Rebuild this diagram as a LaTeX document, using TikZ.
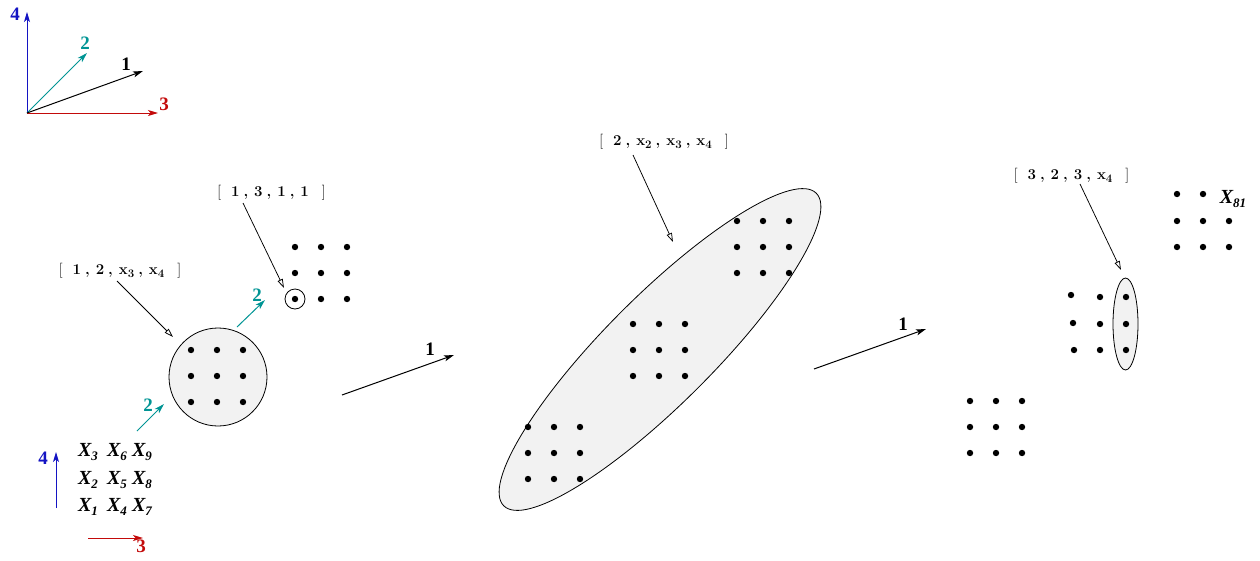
\documentclass[tikz,border=0pt]{standalone}
\usepackage{fontspec}
\newfontfamily\tms{Liberation Serif}
\usetikzlibrary{arrows.meta,shapes.geometric}
\definecolor{axblue}{RGB}{20,20,195}
\definecolor{axteal}{RGB}{0,148,148}
\definecolor{axred}{RGB}{195,10,10}
\definecolor{setfill}{RGB}{242,242,242}
\newcommand\cma{\hspace{4pt}\textbf{,}\hspace{6pt}}
\newcommand\sbx[1]{\textbf{x}\raisebox{-3pt}{\fontsize{11.5}{11.5}\selectfont\bfseries #1}}
\newcommand\veclab[1]{[\hspace{10pt}#1\hspace{13pt}]}
\newcommand\Xl[1]{{\tms\bfseries\itshape X}\raisebox{-4pt}{\fontsize{13}{13}\selectfont\tms\bfseries\itshape #1}}
\begin{document}
\begin{tikzpicture}[x=1pt,y=-1pt,
  dotn/.style={circle,fill=black,inner sep=0pt,minimum size=6.4pt},
  dirarrow/.style={line width=1pt,-{Stealth[length=10pt,width=6pt,inset=2.5pt]}},
  labarrow/.style={line width=0.75pt,-{Triangle[open,length=9pt,width=5.5pt,line width=0.75pt]}},
  numlab/.style={font=\fontsize{19}{19}\selectfont\tms\bfseries,inner sep=0pt},
  veclabel/.style={font=\fontsize{15}{15}\selectfont,inner sep=0pt,anchor=base},
  xlab/.style={font=\fontsize{20}{20}\selectfont,inner sep=0pt,anchor=base},
  setshape/.style={draw=black,line width=0.8pt,fill=setfill,inner sep=0pt}]
\useasboundingbox (0,0) rectangle (1260,560);

% ---- top-left axes ----
\coordinate (o) at (27,113);
\coordinate (t4) at (27,12);
\coordinate (t3) at (158,113);
\coordinate (t2) at (87,53);
\coordinate (t1) at (143,71);
\draw[dirarrow,axblue] (o) -- (t4);
\draw[dirarrow,axred] (o) -- (t3);
\draw[dirarrow,axteal] (o) -- (t2);
\draw[dirarrow,black] (o) -- (t1);
\node[numlab,text=axblue] (n4) at (15,14) {4};
\node[numlab,text=axred] (n3) at (164,104) {3};
\node[numlab,text=axteal] (n2) at (85,43) {2};
\node[numlab] (n1) at (126,64) {1};

% ---- set shapes ----
\node[setshape,circle,minimum size=98pt] (bigc) at (218,377) {};
\node[setshape,ellipse,minimum width=442pt,minimum height=108pt,rotate=45] (bige) at (660,349.5) {};
\node[setshape,ellipse,minimum width=25pt,minimum height=92pt] (smalle) at (1125.5,324) {};

% ---- dot grids ----
\foreach \gx/\gy/\g in {191/350/a, 295/247/b, 528/427/c, 633/324/d, 737/221/e, 970/401/f}{
  \foreach \i in {0,1,2}{
    \foreach \j in {0,1,2}{
      \node[dotn] (\g\i\j) at (\gx+26*\i,\gy+26*\j) {};
    }
  }
}
\node[draw=black,line width=0.8pt,circle,minimum size=20pt,inner sep=0pt] (smallc) at (b02) {};
% right middle group
\node[dotn] (g00) at (1071,295) {};
\node[dotn] (g01) at (1073,323) {};
\node[dotn] (g02) at (1074,350) {};
\node[dotn] (g10) at (1100,297) {};
\node[dotn] (g11) at (1100,324) {};
\node[dotn] (g12) at (1100,350) {};
\node[dotn] (g20) at (1126,297) {};
\node[dotn] (g21) at (1126,324) {};
\node[dotn] (g22) at (1126,350) {};
% upper right group
\node[dotn] (h00) at (1177,194) {};
\node[dotn] (h10) at (1203,194) {};
\node[dotn] (h01) at (1177,221) {};
\node[dotn] (h11) at (1203,221) {};
\node[dotn] (h21) at (1229,221) {};
\node[dotn] (h02) at (1177,247) {};
\node[dotn] (h12) at (1203,247) {};
\node[dotn] (h22) at (1229,247) {};
\node[xlab] (x81) at (1233,203) {\Xl{81}};

% ---- bracket labels and their arrows ----
\node[veclabel] (L1) at (120,274) {\veclab{\textbf{1}\cma\textbf{2}\cma\sbx{3}\cma\sbx{4}}};
\node[veclabel] (L2) at (271.5,196) {\veclab{\textbf{1}\cma\textbf{3}\cma\textbf{1}\cma\textbf{1}}};
\node[veclabel] (L3) at (664,145) {\veclab{\textbf{2}\cma\sbx{2}\cma\sbx{3}\cma\sbx{4}}};
\node[veclabel] (L4) at (1071.5,179) {\veclab{\textbf{3}\cma\textbf{2}\cma\textbf{3}\cma\sbx{4}}};
\coordinate (l1s) at (117,281); \coordinate (l1e) at (173,337);
\coordinate (l2s) at (243,203); \coordinate (l2e) at (284,288);
\coordinate (l3s) at (633,155); \coordinate (l3e) at (673,242);
\coordinate (l4s) at (1080,184); \coordinate (l4e) at (1121,270);
\draw[labarrow] (l1s) -- (l1e);
\draw[labarrow] (l2s) -- (l2e);
\draw[labarrow] (l3s) -- (l3e);
\draw[labarrow] (l4s) -- (l4e);

% ---- teal arrows 2 ----
\coordinate (a2s) at (137,431); \coordinate (a2e) at (164,404);
\coordinate (b2s) at (237,327); \coordinate (b2e) at (265,300);
\draw[dirarrow,axteal] (a2s) -- (a2e);
\draw[dirarrow,axteal] (b2s) -- (b2e);
\node[numlab,text=axteal] (a2l) at (148,405) {2};
\node[numlab,text=axteal] (b2l) at (257,295) {2};

% ---- big arrows 1 ----
\coordinate (m1s) at (342,395); \coordinate (m1e) at (454,355);
\coordinate (r1s) at (814,369); \coordinate (r1e) at (926,329);
\draw[dirarrow] (m1s) -- (m1e);
\draw[dirarrow] (r1s) -- (r1e);
\node[numlab] (m1l) at (430,349) {1};
\node[numlab] (r1l) at (903,324) {1};

% ---- X labels and lower axes ----
\node[xlab] (x3) at (88,456) {\Xl{3}};
\node[xlab] (x6) at (117,456) {\Xl{6}};
\node[xlab] (x9) at (142,456) {\Xl{9}};
\node[xlab] (x2) at (88,484) {\Xl{2}};
\node[xlab] (x5) at (117,484) {\Xl{5}};
\node[xlab] (x8) at (142,484) {\Xl{8}};
\node[xlab] (x1) at (88,511) {\Xl{1}};
\node[xlab] (x4) at (117,511) {\Xl{4}};
\node[xlab] (x7) at (142,511) {\Xl{7}};
\coordinate (v4s) at (56,508); \coordinate (v4e) at (56,452);
\coordinate (h3s) at (88,538); \coordinate (h3e) at (143,538);
\draw[dirarrow,axblue] (v4s) -- (v4e);
\draw[dirarrow,axred] (h3s) -- (h3e);
\node[numlab,text=axblue] (v4l) at (43,458) {4};
\node[numlab,text=axred] (h3l) at (141,546) {3};
\end{tikzpicture}
\end{document}
